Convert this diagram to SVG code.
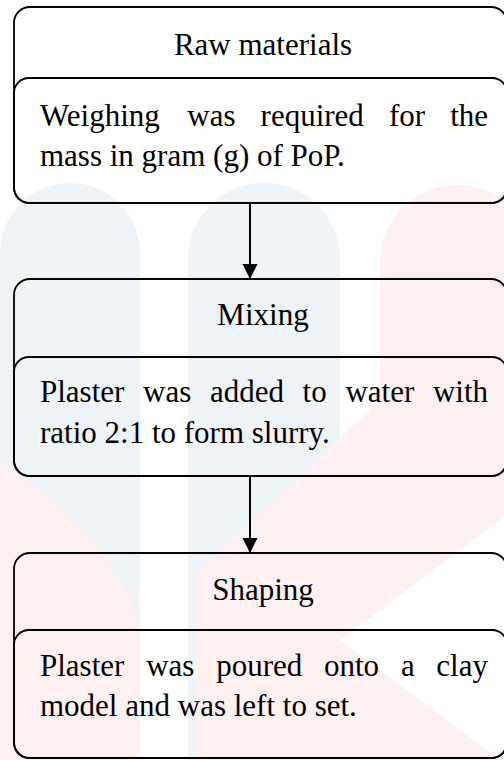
<svg xmlns="http://www.w3.org/2000/svg" width="504" height="760" viewBox="0 0 504 760">
<style>
.box{fill:none;stroke:#000;stroke-width:1.8}
.t{font-family:"Liberation Serif","Times New Roman",serif;font-size:31px;fill:#000}
.h{text-anchor:middle}
.e{text-anchor:end}
.wb{fill:#eef3f7}
.wp{fill:#fdf0f0}
.conn{stroke:#000;stroke-width:2;fill:none}
</style>
<defs>
<marker id="arr" markerWidth="16" markerHeight="16" refX="15" refY="7.5" orient="auto" markerUnits="userSpaceOnUse">
<path d="M0,0 L15,7.5 L0,15 Z" fill="#000"/>
</marker>
</defs>
<rect width="504" height="760" fill="#fff"/>
<g id="watermark">
<path class="wb" d="M0,760 V253 A70,70 0 0 1 140,253 V760 Z"/>
<path class="wb" d="M188,760 V259 A76,76 0 0 1 340,259 V760 Z"/>
<path class="wp" d="M380,262 A77,77 0 0 1 534,262 V495 L340,640 L534,785 V760 H195 V575 L380,400 Z"/>
<path class="wp" d="M0,462 C50,495 120,550 140,630 V760 H0 Z"/>
</g>
<g id="connectors">
<line class="conn" x1="250" y1="203" x2="250" y2="279" marker-end="url(#arr)"/>
<line class="conn" x1="250" y1="476" x2="250" y2="553" marker-end="url(#arr)"/>
</g>
<g id="node-raw">
<rect class="box" x="14" y="7" width="493" height="196" rx="16"/>
<rect class="box" x="14" y="78" width="493" height="125" rx="15"/>
<text class="t h" x="263" y="55">Raw materials</text>
<text class="t" y="126"><tspan x="40">Weighing</tspan><tspan x="187.3">was</tspan><tspan x="260.6">required</tspan><tspan x="388.9">for</tspan></text>
<text class="t e" x="488" y="126">the</text>
<text class="t" x="40" y="166">mass in gram (g) of PoP.</text>
</g>
<g id="node-mixing">
<rect class="box" x="14" y="279" width="493" height="197" rx="16"/>
<rect class="box" x="14" y="357" width="493" height="119" rx="15"/>
<text class="t h" x="263" y="325">Mixing</text>
<text class="t" y="402"><tspan x="40">Plaster</tspan><tspan x="143">was</tspan><tspan x="209.9">added</tspan><tspan x="302.6">to</tspan><tspan x="345.4">water</tspan></text>
<text class="t e" x="488" y="402">with</text>
<text class="t" x="40" y="443">ratio 2:1 to form slurry.</text>
</g>
<g id="node-shaping">
<rect class="box" x="14" y="553" width="493" height="205" rx="16"/>
<rect class="box" x="14" y="630" width="493" height="128" rx="15"/>
<text class="t h" x="263" y="600">Shaping</text>
<text class="t" y="676"><tspan x="40">Plaster</tspan><tspan x="146.2">was</tspan><tspan x="216.2">poured</tspan><tspan x="324">onto</tspan><tspan x="400.9">a</tspan></text>
<text class="t e" x="488" y="676">clay</text>
<text class="t" x="40" y="716">model and was left to set.</text>
</g>
</svg>
